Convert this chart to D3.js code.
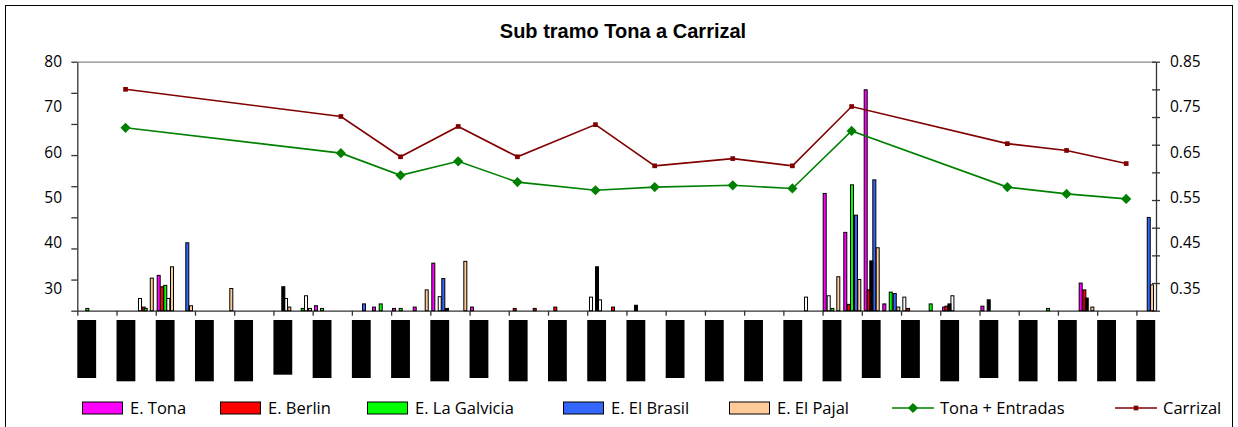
<!DOCTYPE html>
<html>
<head>
<meta charset="utf-8">
<script src="https://cdn.jsdelivr.net/npm/d3@7"></script>
<style>
body { margin: 0; background: #fff; }
svg { display: block; }
</style>
</head>
<body>
<svg id="chart" width="1238" height="427"></svg>
<script>
// bar series: [km, value]
var tona = [[2.075, 32.8], [6.085, 26.1], [7.564, 25.8], [8.074, 25.5], [8.602, 25.8], [9.076, 35.5],
    [10.062, 25.8], [19.054, 50.9], [19.579, 42.3], [20.099, 73.8], [20.574, 26.5], [22.098, 25.8],
    [23.075, 26.0], [25.580, 31.1]];
var berlin = [[1.693, 25.8], [2.159, 30.3], [11.151, 25.5], [11.661, 25.5], [12.186, 25.8], [13.657, 25.8],
    [19.666, 26.4], [20.176, 29.6], [21.179, 25.5], [22.156, 26.0], [25.673, 29.6]];
var galvicia = [[0.255, 25.5], [1.744, 25.5], [2.243, 30.6], [5.746, 25.5], [6.238, 25.5], [7.735, 26.5],
    [8.245, 25.5], [19.248, 25.5], [19.750, 52.8], [20.738, 29.1], [21.756, 26.5], [24.747, 25.5]];
var brasil = [[2.804, 40.0], [7.309, 26.5], [9.331, 32.1], [19.852, 46.1], [20.319, 53.9], [20.840, 28.8],
    [27.315, 45.6]];
var pajal = [[1.899, 32.2], [2.414, 34.7], [2.899, 26.1], [3.926, 29.9], [5.405, 25.8], [5.932, 25.5],
    [8.908, 29.6], [9.892, 35.9], [19.401, 32.5], [19.936, 31.9], [20.405, 38.9], [20.931, 25.8],
    [25.877, 25.8], [27.399, 30.7]];
// two extra series without legend entry
var otrosBlanco = [[1.598, 27.7], [2.320, 27.7], [5.321, 27.7], [5.831, 28.3], [9.239, 28.1], [13.096, 28.0],
    [13.326, 27.4], [18.578, 28.0], [19.156, 28.3], [21.084, 28.0], [22.310, 28.3]];
var otrosNegro = [[5.252, 30.3], [9.425, 25.5], [13.249, 34.7], [14.243, 26.2], [20.242, 36.0],
    [22.233, 26.5], [23.235, 27.4], [25.734, 27.8]];

// line series (right axis)
var lineKm = [1.23, 6.72, 8.24, 9.71, 11.22, 13.21, 14.72, 16.71, 18.23, 19.74, 23.71, 25.22, 26.74];
var carrizal = [0.789, 0.729, 0.640, 0.707, 0.640, 0.711, 0.620, 0.636, 0.620, 0.751, 0.669, 0.654, 0.625];
var tonaEntradas = [0.704, 0.648, 0.599, 0.630, 0.584, 0.566, 0.573, 0.577, 0.570, 0.697, 0.573, 0.558, 0.547];

var leftLabels = [30, 40, 50, 60, 70, 80];
var rightLabels = [0.35, 0.45, 0.55, 0.65, 0.75, 0.85];
var stations = d3.range(0, 28);
// station tick labels are rendered as solid blocks; length in characters
var stationLabelChars = [8, 9, 9, 9, 9, 7, 8, 8, 8, 9, 8, 9, 9, 9, 9, 8, 9, 9, 9, 9, 8, 8, 9, 8, 9, 9, 9, 9];

var barSeries = [
    {name: "E. Tona", color: "#ff00ff", data: tona},
    {name: "E. Berlin", color: "#ff0000", data: berlin},
    {name: "E. La Galvicia", color: "#00ff00", data: galvicia},
    {name: "E. El Brasil", color: "#3366ff", data: brasil},
    {name: "E. El Pajal", color: "#ffcc99", data: pajal},
    {name: "", color: "#ffffff", data: otrosBlanco},
    {name: "", color: "#000000", data: otrosNegro}
];

var svg = d3.select("#chart");
var font = "'Open Sans', sans-serif";

svg.append("rect")
    .attr("x", 5.5).attr("y", 5.5)
    .attr("width", 1227).attr("height", 440)
    .attr("fill", "none").attr("stroke", "#000");

svg.append("text")
    .attr("x", 623).attr("y", 38)
    .attr("text-anchor", "middle")
    .style("font-family", "'Liberation Sans', Arial, sans-serif")
    .style("font-weight", "bold")
    .style("font-size", "20px")
    .text("Sub tramo Tona a Carrizal");

var x = d3.scaleLinear().domain([0, 27.5]).range([77.3, 1156]);
var yLeft = d3.scaleLinear().domain([25, 80]).range([310.7, 61.7]);
var yRight = d3.scaleLinear().domain([0.30, 0.85]).range([310.7, 61.7]);

// plot top border
svg.append("line")
    .attr("x1", x(0)).attr("x2", x(27.5))
    .attr("y1", yLeft(80) + 0.5).attr("y2", yLeft(80) + 0.5)
    .attr("stroke", "#888").attr("stroke-width", 1.2);

// left axis
svg.append("g")
    .attr("transform", "translate(" + x(0) + ",0)")
    .call(d3.axisLeft(yLeft)
        .tickValues(d3.range(9).map(function(i) { return 25 + i * 55 / 8; }))
        .tickSize(6).tickSizeOuter(0).tickFormat(""));
svg.append("g")
    .attr("transform", "translate(62,0)")
    .call(d3.axisLeft(yLeft).tickValues(leftLabels).tickSize(0).tickPadding(0))
    .call(function(g) { g.select(".domain").remove(); });

// right axis
svg.append("g")
    .attr("transform", "translate(" + x(27.5) + ",0)")
    .call(d3.axisRight(yRight)
        .tickValues(d3.range(10).map(function(i) { return 0.30 + i * 0.55 / 9; }))
        .tickSize(4).tickSizeOuter(0).tickFormat(""))
    .call(function(g) { g.selectAll(".tick line").attr("x1", -4); });
svg.append("g")
    .attr("transform", "translate(1170,0)")
    .call(d3.axisRight(yRight).tickValues(rightLabels).tickSize(0).tickPadding(0)
        .tickFormat(d3.format(".2f")))
    .call(function(g) { g.select(".domain").remove(); });

// bottom axis
svg.append("g")
    .attr("transform", "translate(0," + yLeft(25) + ")")
    .call(d3.axisBottom(x).tickValues(stations).tickSize(5).tickSizeOuter(0).tickFormat(""));

svg.selectAll(".domain, .tick line").attr("stroke", "#333").attr("stroke-width", 1.3);
svg.selectAll(".tick text")
    .style("font-family", font).style("font-size", "15.5px").attr("fill", "#000");

// station label blocks
svg.append("g").selectAll("rect")
    .data(stations)
    .enter().append("rect")
    .attr("x", function(d) { return x(d); })
    .attr("y", 320)
    .attr("width", x(0.48) - x(0))
    .attr("height", function(d, i) { return 31.6 + stationLabelChars[i] * 3.3; })
    .attr("fill", "#000");

// bars
barSeries.forEach(function(s) {
    svg.append("g").selectAll("rect")
        .data(s.data)
        .enter().append("rect")
        .attr("x", function(d) { return x(d[0]) - 1.5; })
        .attr("y", function(d) { return yLeft(d[1]); })
        .attr("width", 3)
        .attr("height", function(d) { return yLeft(25) - yLeft(d[1]); })
        .attr("fill", s.color)
        .attr("stroke", "#000")
        .attr("stroke-width", 1);
});

// lines
var lines = [
    {name: "Tona + Entradas", color: "#008000", values: tonaEntradas, marker: "diamond"},
    {name: "Carrizal", color: "#800000", values: carrizal, marker: "square"}
];
var diamond = d3.symbol().type(d3.symbolSquare).size(52);
var square = d3.symbol().type(d3.symbolSquare).size(22);

lines.forEach(function(l) {
    var pts = lineKm.map(function(k, i) { return [k, l.values[i]]; });
    svg.append("path")
        .datum(pts)
        .attr("fill", "none")
        .attr("stroke", l.color)
        .attr("stroke-width", 1.6)
        .attr("d", d3.line()
            .x(function(d) { return x(d[0]); })
            .y(function(d) { return yRight(d[1]); }));
    svg.append("g").selectAll("path")
        .data(pts)
        .enter().append("path")
        .attr("d", l.marker === "diamond" ? diamond : square)
        .attr("transform", function(d) {
            return "translate(" + x(d[0]) + "," + yRight(d[1]) + ")" + (l.marker === "diamond" ? " rotate(45)" : "");
        })
        .attr("fill", l.color);
});

// legend
var legendY = 408;
var boxX = [82, 220, 367, 563, 729];
var legend = svg.append("g");
barSeries.slice(0, 5).forEach(function(s, i) {
    legend.append("rect")
        .attr("x", boxX[i] + 0.5).attr("y", legendY - 6)
        .attr("width", 40).attr("height", 12)
        .attr("fill", s.color).attr("stroke", "#000").attr("stroke-width", 1);
    legend.append("text")
        .attr("x", boxX[i] + 48).attr("y", legendY + 6)
        .style("font-family", font).style("font-size", "16.5px")
        .text(s.name);
});
var lineX = [892, 1115];
lines.forEach(function(l, i) {
    legend.append("line")
        .attr("x1", lineX[i]).attr("x2", lineX[i] + 42)
        .attr("y1", legendY).attr("y2", legendY)
        .attr("stroke", l.color).attr("stroke-width", 1.6);
    legend.append("path")
        .attr("d", l.marker === "diamond" ? diamond : square)
        .attr("transform", "translate(" + (lineX[i] + 21) + "," + legendY + ")" + (l.marker === "diamond" ? " rotate(45)" : ""))
        .attr("fill", l.color);
    legend.append("text")
        .attr("x", lineX[i] + 48).attr("y", legendY + 6)
        .style("font-family", font).style("font-size", "16.5px")
        .text(l.name);
});
</script>
</body>
</html>
